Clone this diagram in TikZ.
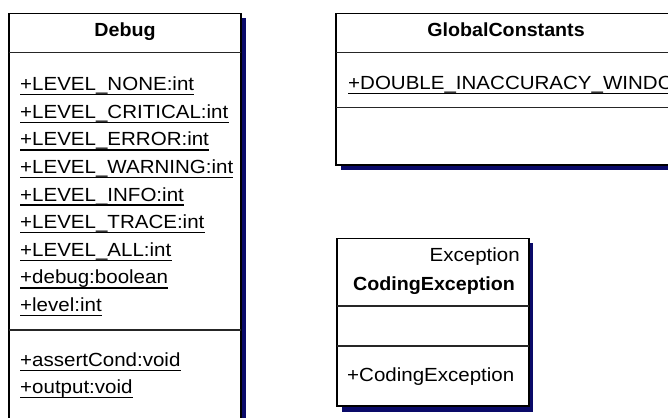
\documentclass[tikz,border=0pt]{standalone}
\usepackage{fontspec}
\setmainfont{Liberation Sans}
\newfontfamily\umlfont[FakeStretch=1.08]{Liberation Sans}
\newfontfamily\umlboldfont[FakeStretch=1.035]{Liberation Sans Bold}
\definecolor{umlshadow}{RGB}{10,10,105}
\tikzset{
  frame/.style={draw=black, line width=1.5pt, fill=white},
  divider/.style={draw=black!85, line width=1.5pt},
  dropshadow/.style={fill=umlshadow},
  member/.style={anchor=base west, inner sep=0pt, font=\umlfont\fontsize{19}{22}\selectfont},
  classname/.style={anchor=base, inner sep=0pt, font=\umlboldfont\fontsize{19}{22}\selectfont},
  uline/.style={draw=black, line width=1.3pt},
}
% static (underlined) member: name, position, text
\newcommand\staticmember[3]{%
  \node[member] (#1) at (#2) {#3};
  \draw[uline] ([yshift=-4pt]#1.base west) -- ([yshift=-4pt]#1.base east);}
\begin{document}
\begin{tikzpicture}[x=1pt,y=-1pt]
\useasboundingbox (0,0) rectangle (668,417);
\clip (0,0) rectangle (668,417);
\fill[white] (0,0) rectangle (668,417);

% class Debug
\fill[dropshadow] (14,18) rectangle (245.5,430);
\draw[frame] (9,13.3) rectangle (241,430);
\draw[divider] (9,52.3) -- (241,52.3);
\draw[divider] (9,330) -- (241,330);
\node[classname] (debugname) at (125,36.7) {Debug};
\staticmember{dA}{20,90.7}{+LEVEL\_NONE:int}
\staticmember{dB}{20,118.3}{+LEVEL\_CRITICAL:int}
\staticmember{dC}{20,145.9}{+LEVEL\_ERROR:int}
\staticmember{dD}{20,173.5}{+LEVEL\_WARNING:int}
\staticmember{dE}{20,201.1}{+LEVEL\_INFO:int}
\staticmember{dF}{20,228.7}{+LEVEL\_TRACE:int}
\staticmember{dG}{20,256.3}{+LEVEL\_ALL:int}
\staticmember{dH}{20,283.9}{+debug:boolean}
\staticmember{dI}{20,311.5}{+level:int}
\staticmember{dJ}{20,366.7}{+assertCond:void}
\staticmember{dK}{20,393.5}{+output:void}

% class GlobalConstants (runs past the right edge)
\fill[dropshadow] (341,18) rectangle (681,170);
\draw[frame] (336,13.3) rectangle (676,165);
\draw[divider] (336,52.7) -- (676,52.7);
\draw[divider] (336,107.7) -- (676,107.7);
\node[classname] (gcname) at (506,36.7) {GlobalConstants};
\staticmember{gA}{348,89.3}{+DOUBLE\_INACCURACY\_WINDOW}

% class CodingException
\fill[dropshadow] (342,243) rectangle (533.3,411.7);
\draw[frame] (337,238.3) rectangle (529,406);
\draw[divider] (337,306) -- (529,306);
\draw[divider] (337,346) -- (529,346);
\node[member, anchor=base east] (ceparent) at (520,261.7) {Exception};
\node[classname] (cename) at (434,290) {CodingException};
\node[member] (ctor) at (347,381.7) {+CodingException};
\end{tikzpicture}
\end{document}
